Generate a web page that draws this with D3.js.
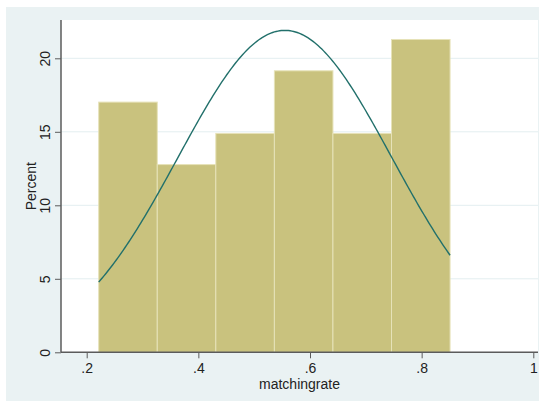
<!DOCTYPE html>
<html>
<head>
<meta charset="utf-8">
<script src="https://cdn.jsdelivr.net/npm/d3@7"></script>
<style>
  html, body { margin: 0; padding: 0; background: #ffffff; }
  svg { display: block; font-family: "Liberation Sans", Arial, sans-serif; }
</style>
</head>
<body>
<svg id="chart" width="539" height="402"></svg>
<script>
// Histogram bins of matchingrate (edges) and percent of observations per bin
const binEdges = [0.2215, 0.3264, 0.4313, 0.5362, 0.6411, 0.7460, 0.8509];
const percents = [17.02, 12.77, 14.89, 19.15, 14.89, 21.28];

// Overlaid normal density: mean and standard deviation of matchingrate
const curveMean = 0.555;
const curveSd = 0.1911;

// Axis ticks
const xTicks = [0.2, 0.4, 0.6, 0.8, 1];
const xTickLabels = [".2", ".4", ".6", ".8", "1"];
const yTicks = [0, 5, 10, 15, 20];

const svg = d3.select("#chart");

// Outer graph region
svg.append("rect")
  .attr("x", 6).attr("y", 7).attr("width", 533).attr("height", 394)
  .attr("fill", "#eaf2f3");

// Plot region
const plot = { left: 61, right: 538, top: 20, bottom: 352.3 };
svg.append("rect")
  .attr("x", plot.left).attr("y", plot.top)
  .attr("width", plot.right - plot.left).attr("height", plot.bottom - plot.top)
  .attr("fill", "#ffffff");

const x = d3.scaleLinear().domain([0.2, 1]).range([86.7, 533.3]);
const y = d3.scaleLinear().domain([0, 20]).range([352.3, 58.3]);

// Horizontal grid lines
svg.append("g")
  .selectAll("line")
  .data(yTicks.filter(d => d > 0))
  .join("line")
  .attr("x1", plot.left).attr("x2", plot.right)
  .attr("y1", d => y(d)).attr("y2", d => y(d))
  .attr("stroke", "#e3eef0").attr("stroke-width", 1);

// Bars
const bins = percents.map((p, i) => ({ x0: binEdges[i], x1: binEdges[i + 1], p }));
svg.append("g")
  .selectAll("rect")
  .data(bins)
  .join("rect")
  .attr("x", d => x(d.x0))
  .attr("y", d => y(d.p))
  .attr("width", d => x(d.x1) - x(d.x0))
  .attr("height", d => y(0) - y(d.p))
  .attr("fill", "#c9c27e")
  .attr("stroke", "#e6e2b8")
  .attr("stroke-width", 1);

// Normal density scaled to percent per bin width
const binWidth = binEdges[1] - binEdges[0];
const density = v => 100 * binWidth * Math.exp(-0.5 * ((v - curveMean) / curveSd) ** 2) / (curveSd * Math.sqrt(2 * Math.PI));
const lo = binEdges[0], hi = binEdges[binEdges.length - 1];
const curvePts = d3.range(0, 201).map(i => lo + (hi - lo) * i / 200);
svg.append("path")
  .datum(curvePts)
  .attr("fill", "none")
  .attr("stroke", "#22706b")
  .attr("stroke-width", 1.4)
  .attr("d", d3.line().x(v => x(v)).y(v => y(density(v))));

// Y axis
const yAxis = d3.axisLeft(y).tickValues(yTicks).tickSize(6).tickPadding(4).tickFormat(d3.format("d"));
const gy = svg.append("g").attr("transform", `translate(${plot.left},0)`).call(yAxis);
gy.select(".domain").remove();
gy.append("line")
  .attr("x1", 0).attr("x2", 0).attr("y1", plot.top).attr("y2", plot.bottom)
  .attr("stroke", "#5b5b5b").attr("stroke-width", 1.5);
gy.selectAll(".tick line").attr("stroke", "#5b5b5b");
gy.selectAll(".tick text")
  .attr("font-size", 14).attr("fill", "#222")
  .attr("transform", "rotate(-90)")
  .attr("x", 0).attr("y", -11)
  .attr("dy", 0)
  .attr("text-anchor", "middle");

// X axis
const xAxis = d3.axisBottom(x).tickValues(xTicks).tickSize(6)
  .tickFormat((d, i) => xTickLabels[i]);
const gx = svg.append("g").attr("transform", `translate(0,${plot.bottom})`).call(xAxis);
gx.select(".domain").remove();
gx.append("line")
  .attr("x1", plot.left).attr("x2", plot.right).attr("y1", 0).attr("y2", 0)
  .attr("stroke", "#5b5b5b").attr("stroke-width", 1.5);
gx.selectAll(".tick line").attr("stroke", "#5b5b5b");
gx.selectAll(".tick text")
  .attr("font-size", 14).attr("fill", "#222")
  .attr("y", 20.5).attr("dy", 0);

// Axis titles
svg.append("text")
  .attr("x", (plot.left + plot.right) / 2).attr("y", 389)
  .attr("text-anchor", "middle").attr("font-size", 14).attr("fill", "#222")
  .text("matchingrate");

svg.append("text")
  .attr("transform", `translate(36,${(plot.top + plot.bottom) / 2}) rotate(-90)`)
  .attr("text-anchor", "middle").attr("font-size", 14).attr("fill", "#222")
  .text("Percent");
</script>
</body>
</html>
